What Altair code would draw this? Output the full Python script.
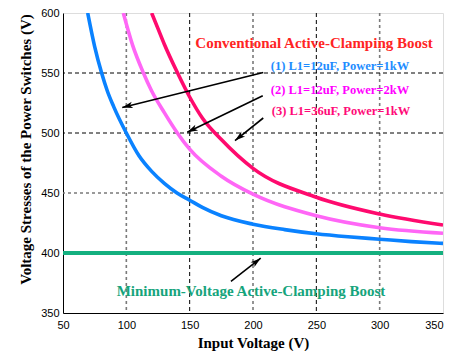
import math
import altair as alt
import pandas as pd

# ---- data ----
blue_x = [69.5, 75, 80.5, 85, 90, 100, 110, 120, 130, 140, 150, 160, 175, 200, 225, 250, 275, 300, 325, 350]
blue_y = [600, 572, 550, 535, 522, 500, 481, 468, 458, 450, 444, 438, 431, 424, 419.5, 416, 413.5, 411.5, 409.5, 408]

pink_x = [97.6, 105, 113.5, 120, 130, 140, 150, 175, 200, 250, 300, 350]
pink_y = [600, 573, 550, 535, 517, 500.5, 486.5, 464, 449, 431, 421, 416.4]

red_x = [120, 125, 130, 140, 150, 160, 175, 200, 250, 300, 350]
red_y = [600, 587, 574, 551, 530, 512.5, 494.5, 470.5, 446.5, 432.5, 423.3]

green_x = [50, 350]
green_y = [400, 400]

grid_black_x = [150, 250]
grid_gray_x = [100, 200, 300]
grid_black_y = [500, 550]
grid_gray_y = [450]

x_ticks = [50, 100, 150, 200, 250, 300, 350]
y_ticks = [350, 400, 450, 500, 550, 600]

arrow_x1 = [208.1, 207.7, 208.1, 182.6]
arrow_y1 = [550.4, 531.1, 512.5, 376.3]
arrow_x2 = [96.8, 148.1, 185.8, 206.1]
arrow_y2 = [521.3, 500.6, 493.7, 395.7]

label_text = ["(1) L1=12uF, Power=1kW", "(2) L1=12uF, Power=2kW", "(3) L1=36uF, Power=1kW"]
label_x = [214, 214, 214.8]
label_y = [556, 535.5, 518.6]
label_color = ["#1e8cff", "#ff00ff", "#ff0a78"]

title_conv = "Conventional Active-Clamping Boost"
title_min = "Minimum-Voltage Active-Clamping Boost"

# ---- layout ----
W, H = 380, 300
XMIN, XMAX, YMIN, YMAX = 50, 350, 350, 600
sx = W / (XMAX - XMIN)
sy = H / (YMAX - YMIN)

xs = alt.Scale(domain=[XMIN, XMAX], nice=False, zero=False)
ys = alt.Scale(domain=[YMIN, YMAX], nice=False, zero=False)

SERIF = "Liberation Serif"
SANS = "Liberation Sans"

xaxis = alt.Axis(values=x_ticks, grid=False, ticks=False, domainColor="black",
                 labelFlush=False,
                 labelAlign=alt.ExprRef(expr="datum.value >= 350 ? 'right' : 'center'"),
                 labelFont=SANS, labelFontSize=11, labelColor="black", labelPadding=6,
                 title="Input Voltage (V)", titleFont=SERIF, titleFontSize=15,
                 titleFontWeight="bold", titleColor="black", titleBaseline="middle",
                 titleY=29)
yaxis = alt.Axis(values=y_ticks, grid=False, ticks=False, domainColor="black",
                 labelFlush=False,
                 labelFont=SANS, labelFontSize=11, labelColor="black", labelPadding=4,
                 title="Voltage Stresses of the Power Switches (V)", titleFont=SERIF,
                 titleFontSize=15, titleFontWeight="bold", titleColor="black",
                 titleBaseline="middle", titleX=-38, titleY=136)

curves = pd.concat([
    pd.DataFrame({"x": blue_x, "y": blue_y, "s": "1"}),
    pd.DataFrame({"x": pink_x, "y": pink_y, "s": "2"}),
    pd.DataFrame({"x": red_x, "y": red_y, "s": "3"}),
])

base_axes = alt.Chart(pd.DataFrame({"x": [XMIN], "y": [YMIN]})).mark_point(opacity=0).encode(
    x=alt.X("x:Q", scale=xs, axis=xaxis),
    y=alt.Y("y:Q", scale=ys, axis=yaxis),
)

gbx = alt.Chart(pd.DataFrame({"x": grid_black_x})).mark_rule(
    color="black", strokeWidth=1, strokeDash=[4, 3]).encode(x=alt.X("x:Q", scale=xs))
ggx = alt.Chart(pd.DataFrame({"x": grid_gray_x})).mark_rule(
    color="#7a7a7a", strokeWidth=1.6, strokeDash=[3, 3]).encode(x=alt.X("x:Q", scale=xs))
gby = alt.Chart(pd.DataFrame({"y": grid_black_y})).mark_rule(
    color="black", strokeWidth=1, strokeDash=[4, 3]).encode(y=alt.Y("y:Q", scale=ys))
ggy = alt.Chart(pd.DataFrame({"y": grid_gray_y})).mark_rule(
    color="#7a7a7a", strokeWidth=1.6, strokeDash=[3, 3]).encode(y=alt.Y("y:Q", scale=ys))

lines = alt.Chart(curves).mark_line(strokeWidth=3.6, interpolate="monotone", clip=True).encode(
    x=alt.X("x:Q", scale=xs),
    y=alt.Y("y:Q", scale=ys),
    color=alt.Color("s:N", scale=alt.Scale(domain=["1", "2", "3"],
                                           range=["#0a82ff", "#ff66f6", "#ff0a6e"]),
                    legend=None),
    detail="s:N",
)

green = alt.Chart(pd.DataFrame({"x": green_x, "y": green_y})).mark_line(
    strokeWidth=4, color="#14b07f").encode(x=alt.X("x:Q", scale=xs), y=alt.Y("y:Q", scale=ys))

angles = []
for a, b, c, d in zip(arrow_x1, arrow_y1, arrow_x2, arrow_y2):
    dx = (c - a) * sx
    dy = -(d - b) * sy
    angles.append(math.degrees(math.atan2(dx, -dy)) % 360)

arr_df = pd.DataFrame({"x1": arrow_x1, "y1": arrow_y1, "x2": arrow_x2, "y2": arrow_y2, "ang": angles})

arrow_lines = alt.Chart(arr_df).mark_rule(color="black", strokeWidth=1.6).encode(
    x=alt.X("x1:Q", scale=xs), y=alt.Y("y1:Q", scale=ys), x2="x2:Q", y2="y2:Q")

arrow_heads = alt.Chart(arr_df).mark_point(
    shape="M0,0L0.6,2L0,1.5L-0.6,2Z", filled=True, color="black", opacity=1, size=110).encode(
    x=alt.X("x2:Q", scale=xs), y=alt.Y("y2:Q", scale=ys),
    angle=alt.Angle("ang:Q", scale=None))

lab_df = pd.DataFrame({"x": label_x, "y": label_y, "t": label_text, "c": label_color})
labels = alt.Chart(lab_df).mark_text(align="left", baseline="middle", font=SERIF,
                                     fontWeight="bold", fontSize=12.5).encode(
    x=alt.X("x:Q", scale=xs), y=alt.Y("y:Q", scale=ys), text="t:N",
    color=alt.Color("c:N", scale=None))

conv = alt.Chart(pd.DataFrame({"x": [248.2], "y": [575.1], "t": [title_conv]})).mark_text(
    align="center", baseline="middle", font=SERIF, fontWeight="bold", fontSize=15,
    color="#ff2424").encode(x=alt.X("x:Q", scale=xs), y=alt.Y("y:Q", scale=ys), text="t:N")

minv = alt.Chart(pd.DataFrame({"x": [92.4], "y": [368.5], "t": [title_min]})).mark_text(
    align="left", baseline="middle", font=SERIF, fontWeight="bold", fontSize=15,
    color="#16a47c").encode(x=alt.X("x:Q", scale=xs), y=alt.Y("y:Q", scale=ys), text="t:N")

chart = alt.layer(base_axes, ggx, gbx, ggy, gby, lines, green, arrow_lines, arrow_heads,
                  labels, conv, minv).properties(
    width=W, height=H,
    autosize=alt.AutoSizeParams(type="none"),
    padding={"left": 55, "top": 5, "right": 2, "bottom": 38},
).configure_view(stroke="black", strokeWidth=1.2).configure(background="white")

chart.save("out.html", embed_options={"renderer": "svg", "actions": False})
